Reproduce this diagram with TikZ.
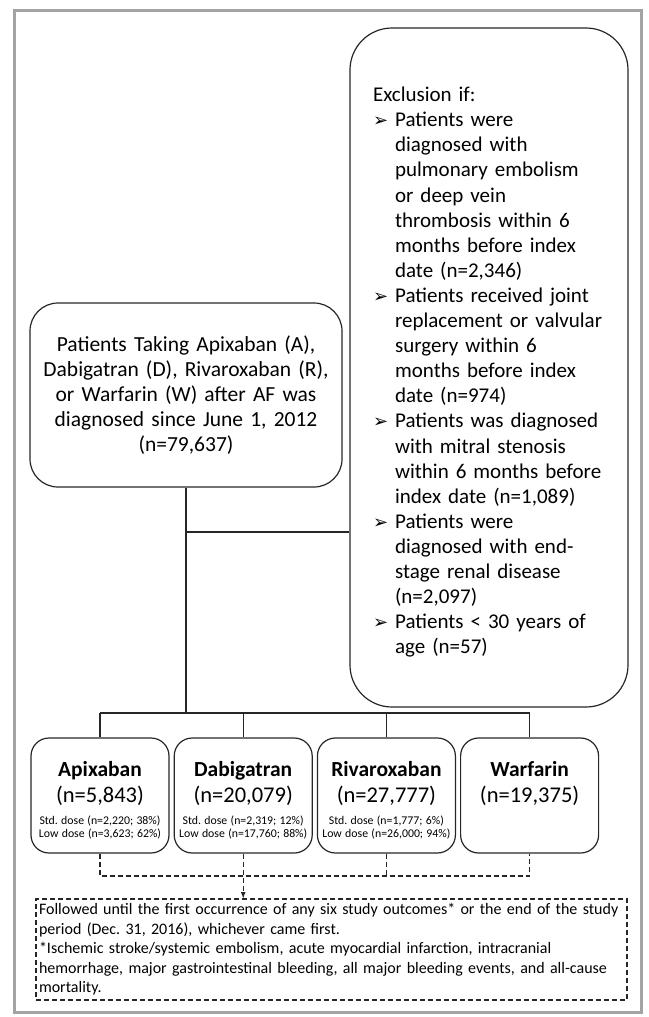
\documentclass[tikz,border=0pt]{standalone}
\usepackage{fontspec}
\setmainfont{Carlito}
\newfontfamily\symfont{DejaVu Sans}
\usepackage{xcolor}
\usetikzlibrary{positioning}
\tikzset{>=latex}
\frenchspacing

\definecolor{linec}{HTML}{262626}
\definecolor{framec}{HTML}{A3A3A3}

\newcommand{\arrbul}{{\symfont\fontsize{18}{18}\selectfont ➢}}
\newcommand{\drugtxt}[4]{%
  {\fontsize{21.5}{24}\selectfont\bfseries\rule{0pt}{25pt}#1\par}%
  {\fontsize{22.5}{26}\selectfont (n=#2)\par}%
  {\fontsize{11.8}{22}\selectfont #3\par}%
  {\fontsize{11.8}{13.5}\selectfont #4\par}}

\begin{document}
\begin{tikzpicture}[
            x=1pt, y=-1pt,
            link/.style={draw=linec, line width=1.2pt},
            dlink/.style={link, dash pattern=on 5pt off 3pt},
            mainbox/.style={link, rounded corners=28pt, minimum width=312pt,
                minimum height=184pt, text width=300pt, align=center,
                font=\fontsize{21.5}{25}\selectfont},
            exclbox/.style={link, rounded corners=42pt, minimum width=278pt,
                minimum height=679pt, text width=232pt, align=left,
                inner sep=0pt, font=\fontsize{21}{25.1}\selectfont},
            drugbox/.style={link, rounded corners=18pt, minimum width=138pt,
                minimum height=115pt, text width=134pt, align=center, inner sep=0pt},
            folbox/.style={dlink, minimum width=591pt, minimum height=101pt,
                text width=585pt, align=left, inner sep=3pt,
                font=\fontsize{16}{19.5}\selectfont}
        ]
        \useasboundingbox (0,0) rectangle (648,1017);
        \draw[framec, line width=3pt] (14,10) rectangle (641,1012);
        % cohort
        \node[mainbox] (main) at (186,395) {Patients Taking Apixaban (A),\\ Dabigatran (D), Rivaroxaban (R),\\ or Warfarin (W) after AF was\\ diagnosed since June 1, 2012\\ (n=79,637)};
        % exclusions
        \node[exclbox] (excl) at (489,367.5) {%
            \begin{tabular}{@{}l@{\hspace{7pt}}l@{}}
            \multicolumn{2}{@{}l@{}}{\rule{0pt}{28pt}Exclusion if:}\\
            \arrbul & Patients were\\
                    & diagnosed with\\
                    & pulmonary embolism\\
                    & or deep vein\\
                    & thrombosis within 6\\
                    & months before index\\
                    & date (n=2,346)\\
            \arrbul & Patients received joint\\
                    & replacement or valvular\\
                    & surgery within 6\\
                    & months before index\\
                    & date (n=974)\\
            \arrbul & Patients was diagnosed\\
                    & with mitral stenosis\\
                    & within 6 months before\\
                    & index date (n=1,089)\\
            \arrbul & Patients were\\
                    & diagnosed with end-\\
                    & stage renal disease\\
                    & (n=2,097)\\
            \arrbul & Patients < 30 years of\\
                    & age (n=57)
            \end{tabular}};
        \coordinate (jn) at (186,532);
        \path[link] (jn) -- (jn -| excl.west);
        % drug groups
        \node[drugbox] (a) at (100,795.5) {\drugtxt{Apixaban}{5,843}{Std. dose (n=2,220; 38\%)}{Low dose (n=3,623; 62\%)}};
        \node[drugbox, right=4pt of a] (d) {\drugtxt{Dabigatran}{20,079}{Std. dose (n=2,319; 12\%)}{Low dose (n=17,760; 88\%)}};
        \node[drugbox, right=4pt of d] (r) {\drugtxt{Rivaroxaban}{27,777}{Std. dose (n=1,777; 6\%)}{Low dose (n=26,000; 94\%)}};
        \node[drugbox, right=4pt of r] (w) {\drugtxt{Warfarin}{19,375}{\phantom{(n)}}{\phantom{(n)}}};
        \coordinate (br) at (186,713);
        \path[link] (main.south) -- (main.south |- br);
        \path[link] (a.north |- br) -- (w.north |- br);
        \foreach \g in {a,d,r,w}
            \path[link] (\g.north |- br) -- (\g.north);
        % follow-up
        \node[folbox] (fol) at (331.5,949.5) {Followed until the first occurrence of any six study outcomes* or the end of the study\\ period (Dec. 31, 2016), whichever came first.\\ {*}Ischemic stroke/systemic embolism, acute myocardial infarction, intracranial\\ hemorrhage, major gastrointestinal bleeding, all major bleeding events, and all-cause\\ mortality.};
        \coordinate (dl) at (0,876);
        \path[dlink] (a.south) -- (a.south |- dl) -- (w.south |- dl) -- (w.south);
        \path[dlink] (r.south) -- (r.south |- dl);
        \path[dlink, ->] (d.south) -- (d.south |- fol.north);
        \end{tikzpicture}
\end{document}
